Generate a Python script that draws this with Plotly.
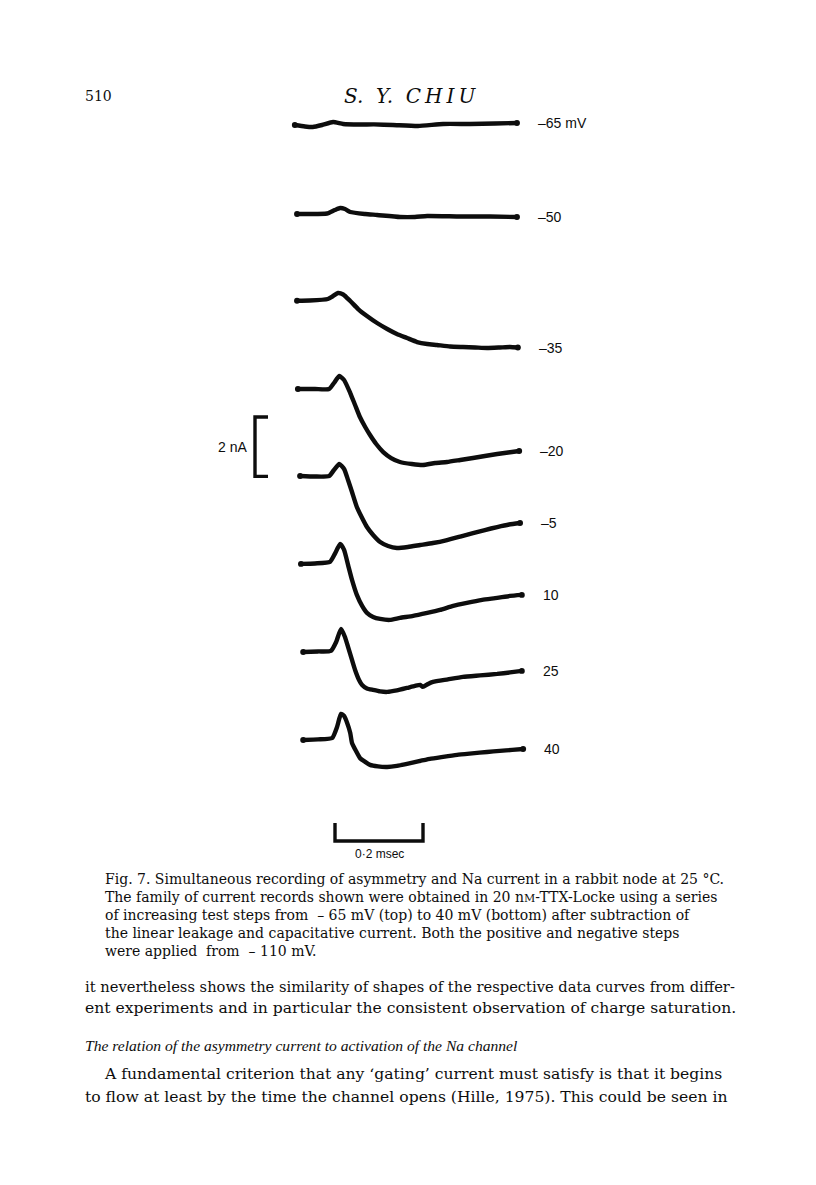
import plotly.graph_objects as go

# ---------------- data (time in ms from step onset, current in nA) ----------------
VOLT_LABELS = ["–65 mV", "–50", "–35", "–20", "–5", "10", "25", "40"]

T_M65 = [-0.080, -0.057, -0.039, -0.018, 0.007, 0.030, 0.068, 0.100, 0.143, 0.200, 0.257, 0.318, 0.375, 0.425]
I_M65 = [0.0, -0.05, -0.067, 0.0, 0.10, 0.034, 0.017, 0.02, 0.0, -0.034, 0.034, 0.034, 0.05, 0.067]

T_M50 = [-0.075, -0.046, -0.007, 0.011, 0.023, 0.034, 0.046, 0.080, 0.107, 0.159, 0.193, 0.221, 0.296, 0.364, 0.425]
I_M50 = [-0.044, -0.044, -0.027, 0.091, 0.158, 0.125, 0.024, -0.044, -0.077, -0.145, -0.145, -0.111, -0.128, -0.128, -0.145]

T_M35 = [-0.075, -0.046, -0.005, 0.007, 0.018, 0.030, 0.046, 0.064, 0.084, 0.107, 0.130, 0.152, 0.175,
         0.198, 0.221, 0.243, 0.273, 0.302, 0.330, 0.357, 0.386, 0.409, 0.427]
I_M35 = [-0.01, -0.003, 0.047, 0.148, 0.249, 0.199, -0.02, -0.29, -0.525, -0.761, -0.963, -1.131, -1.266,
         -1.401, -1.468, -1.502, -1.552, -1.569, -1.586, -1.603, -1.586, -1.569, -1.586]

T_M20 = [-0.073, -0.034, -0.002, 0.009, 0.021, 0.032, 0.046, 0.057, 0.068, 0.080, 0.091, 0.105, 0.121,
         0.139, 0.159, 0.186, 0.211, 0.239, 0.266, 0.296, 0.325, 0.352, 0.380, 0.405, 0.430]
I_M20 = [-0.03, -0.03, -0.03, 0.172, 0.407, 0.273, -0.165, -0.569, -0.973, -1.31, -1.579, -1.882, -2.152,
         -2.354, -2.488, -2.556, -2.589, -2.522, -2.488, -2.421, -2.354, -2.286, -2.219, -2.168, -2.118]

T_M5 = [-0.068, -0.034, -0.002, 0.009, 0.021, 0.032, 0.041, 0.050, 0.061, 0.073, 0.084, 0.098, 0.114,
        0.132, 0.152, 0.177, 0.205, 0.234, 0.266, 0.296, 0.325, 0.352, 0.380, 0.407, 0.432]
I_M5 = [-0.007, -0.024, -0.007, 0.195, 0.397, 0.229, -0.141, -0.545, -1.05, -1.421, -1.724, -1.993, -2.229,
        -2.364, -2.431, -2.397, -2.33, -2.263, -2.162, -2.044, -1.926, -1.825, -1.724, -1.64, -1.589]

T_P10 = [-0.066, -0.034, 0.000, 0.011, 0.023, 0.032, 0.041, 0.050, 0.061, 0.073, 0.084, 0.098, 0.114,
         0.136, 0.159, 0.189, 0.221, 0.250, 0.280, 0.311, 0.346, 0.380, 0.409, 0.436]
I_P10 = [-0.013, 0.003, 0.054, 0.323, 0.66, 0.458, -0.047, -0.552, -1.057, -1.428, -1.663, -1.798, -1.865,
         -1.899, -1.832, -1.764, -1.663, -1.562, -1.428, -1.327, -1.226, -1.158, -1.091, -1.057]

T_P25 = [-0.061, -0.027, 0.002, 0.014, 0.025, 0.034, 0.041, 0.050, 0.057, 0.066, 0.073, 0.084, 0.098,
         0.114, 0.130, 0.152, 0.175, 0.193, 0.205, 0.211, 0.223, 0.234, 0.268, 0.302, 0.341, 0.380, 0.409, 0.436]
I_P25 = [-0.024, -0.007, 0.01, 0.313, 0.751, 0.481, 0.145, -0.293, -0.63, -0.966, -1.135, -1.253, -1.303,
         -1.354, -1.37, -1.32, -1.236, -1.168, -1.135, -1.202, -1.101, -1.034, -0.949, -0.865, -0.815, -0.764,
         -0.714, -0.663]

T_P40 = [-0.061, -0.027, 0.005, 0.016, 0.025, 0.032, 0.039, 0.046, 0.050, 0.059, 0.068, 0.080, 0.091,
         0.109, 0.130, 0.152, 0.175, 0.200, 0.227, 0.257, 0.289, 0.323, 0.357, 0.386, 0.414, 0.439]
I_P40 = [-0.034, -0.017, 0.034, 0.404, 0.842, 0.774, 0.539, 0.202, -0.135, -0.404, -0.64, -0.774, -0.875,
         -0.926, -0.943, -0.909, -0.842, -0.758, -0.673, -0.606, -0.539, -0.488, -0.438, -0.404, -0.37, -0.337]

TIMES = [T_M65, T_M50, T_M35, T_M20, T_M5, T_P10, T_P25, T_P40]
CURRENTS = [I_M65, I_M50, I_M35, I_M20, I_M5, I_P10, I_P25, I_P40]

SCALE_T_MS = 0.2      # time calibration bar
SCALE_I_NA = 2.0      # current calibration bar
SCALE_T_LABEL = "0·2 msec"
SCALE_I_LABEL = "2 nA"

HEADER_PAGE = "510"
HEADER_AUTHOR = "S.  Y.  C\u2009H\u2009I\u2009U"
CAPTION_LINES = [
    "Fig. 7. Simultaneous recording of asymmetry and Na current in a rabbit node at 25 °C.",
    "The family of current records shown were obtained in 20 n<span style='font-size:11px'>M</span>-TTX-Locke using a series",
    "of increasing test steps from  – 65 mV (top) to 40 mV (bottom) after subtraction of",
    "the linear leakage and capacitative current. Both the positive and negative steps",
    "were applied  from  – 110 mV.",
]
BODY_LINES = [
    "it nevertheless shows the similarity of shapes of the respective data curves from differ-",
    "ent experiments and in particular the consistent observation of charge saturation.",
]
SECTION_TITLE = "The relation of the asymmetry current to activation of the Na channel"
BODY_LINES2 = [
    "A fundamental criterion that any ‘gating’ current must satisfy is that it begins",
    "to flow at least by the time the channel opens (Hille, 1975). This could be seen in",
]

# ---------------- layout constants ----------------
PAD = 8                # default page margin of the html body
W, H = 800, 1169
PX_PER_MS = 440.0
PX_PER_NA = 29.7
X0_PX = 330.0          # screen pixel of t = 0
Y0_PX = 125.0          # screen pixel of first baseline
TRACE_SPACING = 2.953  # nA between stacked baselines
INK = "#0d0d0d"
LW = 4.4
SANS = "Liberation Sans"
SERIF = "DejaVu Serif"

def px(xs):
    return (xs - PAD) / W

def py(ys):
    return 1 - (ys - PAD) / H

fig = go.Figure()

for i, (t, cur, lab) in enumerate(zip(TIMES, CURRENTS, VOLT_LABELS)):
    off = i * TRACE_SPACING
    yy = [c - off for c in cur]
    fig.add_trace(go.Scatter(x=t, y=yy, mode="lines",
                             line=dict(color=INK, width=LW, shape="spline", smoothing=0.5),
                             hoverinfo="skip", showlegend=False))
    fig.add_trace(go.Scatter(x=[t[0], t[-1]], y=[yy[0], yy[-1]], mode="markers",
                             marker=dict(color=INK, size=LW + 1.5), hoverinfo="skip", showlegend=False))
    fig.add_annotation(x=t[-1], y=yy[-1], text=lab, showarrow=False, xanchor="left", yanchor="middle",
                       xshift=19, font=dict(family=SANS, size=14, color=INK))

# time calibration bar
tb0 = (335 - X0_PX) / PX_PER_MS
tb_y = (Y0_PX - 841) / PX_PER_NA
tick = 18 / PX_PER_NA
fig.add_trace(go.Scatter(x=[tb0, tb0, tb0 + SCALE_T_MS, tb0 + SCALE_T_MS],
                         y=[tb_y + tick, tb_y, tb_y, tb_y + tick], mode="lines",
                         line=dict(color=INK, width=3.4), hoverinfo="skip", showlegend=False))
fig.add_annotation(x=tb0 + SCALE_T_MS / 2, y=tb_y, text=SCALE_T_LABEL, showarrow=False,
                   yanchor="top", yshift=-4, font=dict(family=SANS, size=12, color=INK))

# current calibration bar
ib_x = (255 - X0_PX) / PX_PER_MS
ib_top = (Y0_PX - 417) / PX_PER_NA
itick = 13 / PX_PER_MS
fig.add_trace(go.Scatter(x=[ib_x + itick, ib_x, ib_x, ib_x + itick],
                         y=[ib_top, ib_top, ib_top - SCALE_I_NA, ib_top - SCALE_I_NA], mode="lines",
                         line=dict(color=INK, width=3.4), hoverinfo="skip", showlegend=False))
fig.add_annotation(x=ib_x, y=ib_top - SCALE_I_NA / 2, text=SCALE_I_LABEL, showarrow=False,
                   xanchor="right", xshift=-6, yshift=0, font=dict(family=SANS, size=14, color=INK))

# header
fig.add_annotation(x=px(83), y=py(96), xref="paper", yref="paper", text=HEADER_PAGE, showarrow=False,
                   xanchor="left", yanchor="middle", font=dict(family=SERIF, size=14, color=INK))
fig.add_annotation(x=px(410), y=py(96), xref="paper", yref="paper", text="<i>" + HEADER_AUTHOR + "</i>",
                   showarrow=False, xanchor="center", yanchor="middle",
                   font=dict(family=SERIF, size=20, color=INK))

# caption
cap_y = [879, 897, 915, 933, 951]
for yl, txt in zip(cap_y, CAPTION_LINES):
    fig.add_annotation(x=px(103), y=py(yl), xref="paper", yref="paper", text=txt, showarrow=False,
                       xanchor="left", yanchor="middle", font=dict(family=SERIF, size=14, color=INK))

# body text
for yl, sz, txt in zip([986, 1008], [14.7, 15.6], BODY_LINES):
    fig.add_annotation(x=px(83), y=py(yl), xref="paper", yref="paper", text=txt, showarrow=False,
                       xanchor="left", yanchor="middle", font=dict(family=SERIF, size=sz, color=INK))
fig.add_annotation(x=px(83), y=py(1045), xref="paper", yref="paper", text="<i>" + SECTION_TITLE + "</i>",
                   showarrow=False, xanchor="left", yanchor="middle",
                   font=dict(family="Liberation Serif", size=15.6, color=INK))
for yl, xl, txt in zip([1074, 1097], [102, 83], BODY_LINES2):
    fig.add_annotation(x=px(xl), y=py(yl), xref="paper", yref="paper", text=txt, showarrow=False,
                       xanchor="left", yanchor="middle", font=dict(family=SERIF, size=15.6, color=INK))

fig.update_layout(
    width=W, height=H, autosize=False,
    margin=dict(l=0, r=0, t=0, b=0),
    paper_bgcolor="white", plot_bgcolor="white",
    xaxis=dict(range=[(PAD - X0_PX) / PX_PER_MS, (PAD + W - X0_PX) / PX_PER_MS], visible=False, fixedrange=True),
    yaxis=dict(range=[(Y0_PX - PAD - H) / PX_PER_NA, (Y0_PX - PAD) / PX_PER_NA], visible=False, fixedrange=True),
)

fig.write_html("out.html")
